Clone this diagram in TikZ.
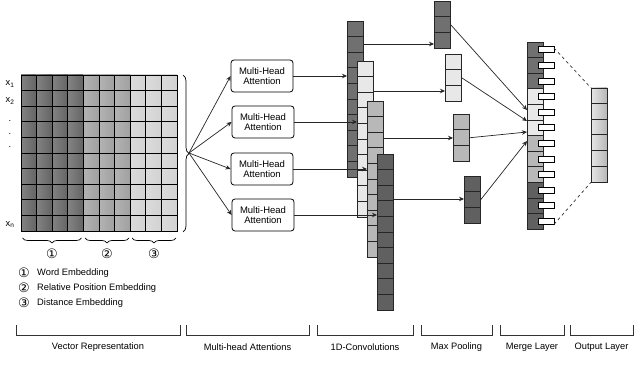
\documentclass[tikz,border=0pt]{standalone}
\usepackage{fontspec}
\setmainfont{Liberation Sans}
\newfontfamily\circfont{DejaVu Sans}
\usetikzlibrary{arrows.meta, positioning, calc, decorations.pathreplacing}
\definecolor{matdark}{RGB}{100,100,100}
\definecolor{matmid}{RGB}{160,160,160}
\definecolor{matlight}{RGB}{210,210,210}
\definecolor{gdark}{RGB}{112,112,112}
\definecolor{glight}{RGB}{232,232,232}
\definecolor{gmid}{RGB}{184,184,184}
\definecolor{gdeep}{RGB}{96,96,96}

\begin{document}
\begin{tikzpicture}[x=1pt, y=-1pt,
        mha/.style={rectangle, draw=black, rounded corners=3pt, minimum width=62pt,
                    minimum height=32pt, align=center, font=\fontsize{9.5}{10.5}\selectfont,
                    inner sep=1pt, line width=0.8pt},
        layer/.style={rectangle, draw=black!85, line width=0.7pt, minimum width=16pt,
                      inner sep=0pt, anchor=north west},
        cellline/.style={draw=black!85, line width=0.6pt},
        arrow/.style={-{Stealth[length=5pt, width=4.5pt]}, line width=0.7pt, black!85},
        cbrace/.style={decorate, decoration={brace, amplitude=5pt}, line width=0.7pt},
        stage/.style={line width=0.6pt, black!80},
        txt/.style={font=\fontsize{9.3}{10.5}\selectfont, inner sep=1pt},
        num/.style={font=\circfont\fontsize{13}{13}\selectfont, inner sep=0pt},
    ]
    \useasboundingbox (0,0) rectangle (640,371);

    % Vector representation
    \foreach \cl [count=\c from 0] in {matdark,matdark,matdark,matdark,matmid,matmid,matmid,matlight,matlight,matlight}
        \foreach \r in {0,...,9}
            \shade[left color=\cl!80!white, right color=\cl] ({21+\c*15.6},{75+\r*15.6}) rectangle ++(15.6,15.6);
    \node[draw, line width=1pt, minimum width=156pt, minimum height=156pt, inner sep=0pt,
          anchor=north west] (vecmat) at (21,75) {};
    \foreach \i in {1,...,9} {
        \draw[line width=0.9pt] ($(vecmat.north west)+(\i*15.6,0)$) -- ($(vecmat.south west)+(\i*15.6,0)$);
        \draw[line width=0.9pt] ($(vecmat.north west)+(0,\i*15.6)$) -- ($(vecmat.north east)+(0,\i*15.6)$);
    }

    \node[txt] (x1) at (10,84) {x\textsubscript{1}};
    \node[txt] (x2) at (10,101) {x\textsubscript{2}};
    \node[txt] (d1) at (10,121) {.};
    \node[txt] (d2) at (10,134) {.};
    \node[txt] (d3) at (10,147) {.};
    \node[txt] (xn) at (10,225) {x\textsubscript{n}};

    % Accolades
    \draw[cbrace, decoration={amplitude=6pt}] ($(vecmat.north east)+(5,0)$) -- ($(vecmat.south east)+(5,0)$);
    \coordinate (fan) at (189,153);
    \draw[cbrace] (81.5,238) -- (22.5,238);
    \draw[cbrace] (129,238) -- (85,238);
    \draw[cbrace] (176,238) -- (132,238);
    \node[num] (n1) at (52,254) {①};
    \node[num] (n2) at (107,254) {②};
    \node[num] (n3) at (154,254) {③};

    % Legende
    \node[num] (l1) at (24,273) {①};
    \node[txt, right=6pt of l1] (w1) {Word Embedding};
    \node[num] (l2) at (24,288) {②};
    \node[txt, right=6pt of l2] (w2) {Relative Position Embedding};
    \node[num] (l3) at (24,303) {③};
    \node[txt, right=6pt of l3] (w3) {Distance Embedding};

    % Multi-head attentions
    \node[mha] (mha1) at (262,76) {Multi-Head\\Attention};
    \node[mha] (mha2) at (263,122) {Multi-Head\\Attention};
    \node[mha] (mha3) at (262,169) {Multi-Head\\Attention};
    \node[mha] (mha4) at (263,215) {Multi-Head\\Attention};
    \foreach \m in {mha1,mha2,mha3,mha4}
        \draw[arrow] (fan) -- (\m.west);

    % Convolutions
    \foreach \n/\x/\y/\cl in {conv1/347/21/gdark, conv2/357/61/glight, conv3/367/101/gmid, conv4/377/154/gdeep} {
        \node[layer, fill=\cl, minimum height=156pt] (\n) at (\x,\y) {};
        \foreach \i in {1,...,9}
            \draw[cellline] ($(\n.north west)+(0,\i*15.6)$) -- ($(\n.north east)+(0,\i*15.6)$);
    }
    \draw[arrow] (mha1.east) -- (mha1.east -| conv1.west);
    \draw[arrow] (mha2.east) -- (mha2.east -| conv2.west);
    \draw[arrow] (mha3.east) -- (mha3.east -| conv3.west);
    \draw[arrow] (mha4.east) -- (mha4.east -| conv4.west);

    % Max pooling
    \foreach \n/\x/\y/\cl in {pool1/434/1/gdark, pool2/445/54/glight, pool3/453/114/gmid, pool4/464/176/gdeep} {
        \node[layer, fill=\cl, minimum height=46.8pt] (\n) at (\x,\y) {};
        \foreach \i in {1,2}
            \draw[cellline] ($(\n.north west)+(0,\i*15.6)$) -- ($(\n.north east)+(0,\i*15.6)$);
    }
    \coordinate (c1) at ($(conv1.north east)+(0,23)$);
    \coordinate (c2) at ($(conv2.north east)+(0,30)$);
    \coordinate (c3) at ($(conv3.north east)+(0,37)$);
    \coordinate (c4) at ($(conv4.north east)+(0,45)$);
    \draw[arrow] (c1) -- (c1 -| pool1.west);
    \draw[arrow] (c2) -- (c2 -| pool2.west);
    \draw[arrow] (c3) -- (c3 -| pool3.west);
    \draw[arrow] (c4) -- (c4 -| pool4.west);

    % Merge layer
    \node[layer, minimum height=187.2pt] (merge) at (527,42) {};
    \foreach \cl [count=\i from 0] in {gdark,gdark,gdark,glight,glight,glight,gmid,gmid,gmid,gdeep,gdeep,gdeep} {
        \filldraw[fill=\cl, draw=black!85, line width=0.7pt] ($(merge.north west)+(0,\i*15.6)$) rectangle ++(16,15.6);
        \draw[fill=white, line width=0.7pt] ($(merge.north west)+(11,\i*15.6+4.8)$) rectangle ++(16,6)
            coordinate (tab\i);
    }
    \coordinate (m1) at ($(merge.north west)+(0,68)$);
    \coordinate (m2) at ($(merge.north west)+(0,79)$);
    \coordinate (m3) at ($(merge.north west)+(0,90)$);
    \coordinate (m4) at ($(merge.north west)+(0,99)$);
    \draw[arrow] (pool1.east) -- (m1);
    \draw[arrow] (pool2.east) -- (m2);
    \draw[arrow] (pool3.east) -- (m3);
    \draw[arrow] (pool4.east) -- (m4);

    % Output layer
    \node[layer, minimum height=93.6pt] (outl) at (591,88) {};
    \foreach \i in {0,...,5}
        \shade[left color=black!10, right color=black!28] ($(outl.north west)+(0,\i*15.6)$) rectangle ++(16,15.6);
    \node[layer, minimum height=93.6pt] at (591,88) {};
    \foreach \i in {1,...,5}
        \draw[cellline] ($(outl.north west)+(0,\i*15.6)$) -- ($(outl.north east)+(0,\i*15.6)$);
    \draw[dashed, line width=0.7pt, black!80] (tab0 |- 0,48) -- (outl.north west);
    \draw[dashed, line width=0.7pt, black!80] (tab11) -- (outl.south west);

    % Etapes
    \foreach \a/\b/\t [count=\k] in {16/180/Vector Representation, 186/309/Multi-head Attentions,
            317/413/1D-Convolutions, 421/492/Max Pooling, 500/564/Merge Layer, 570/633/Output Layer} {
        \draw[stage] (\a,325) -- (\a,335) -- (\b,335) -- (\b,325);
        \node[txt] (stage\k) at ({(\a+\b)/2},347) {\t};
    }
\end{tikzpicture}
\end{document}
